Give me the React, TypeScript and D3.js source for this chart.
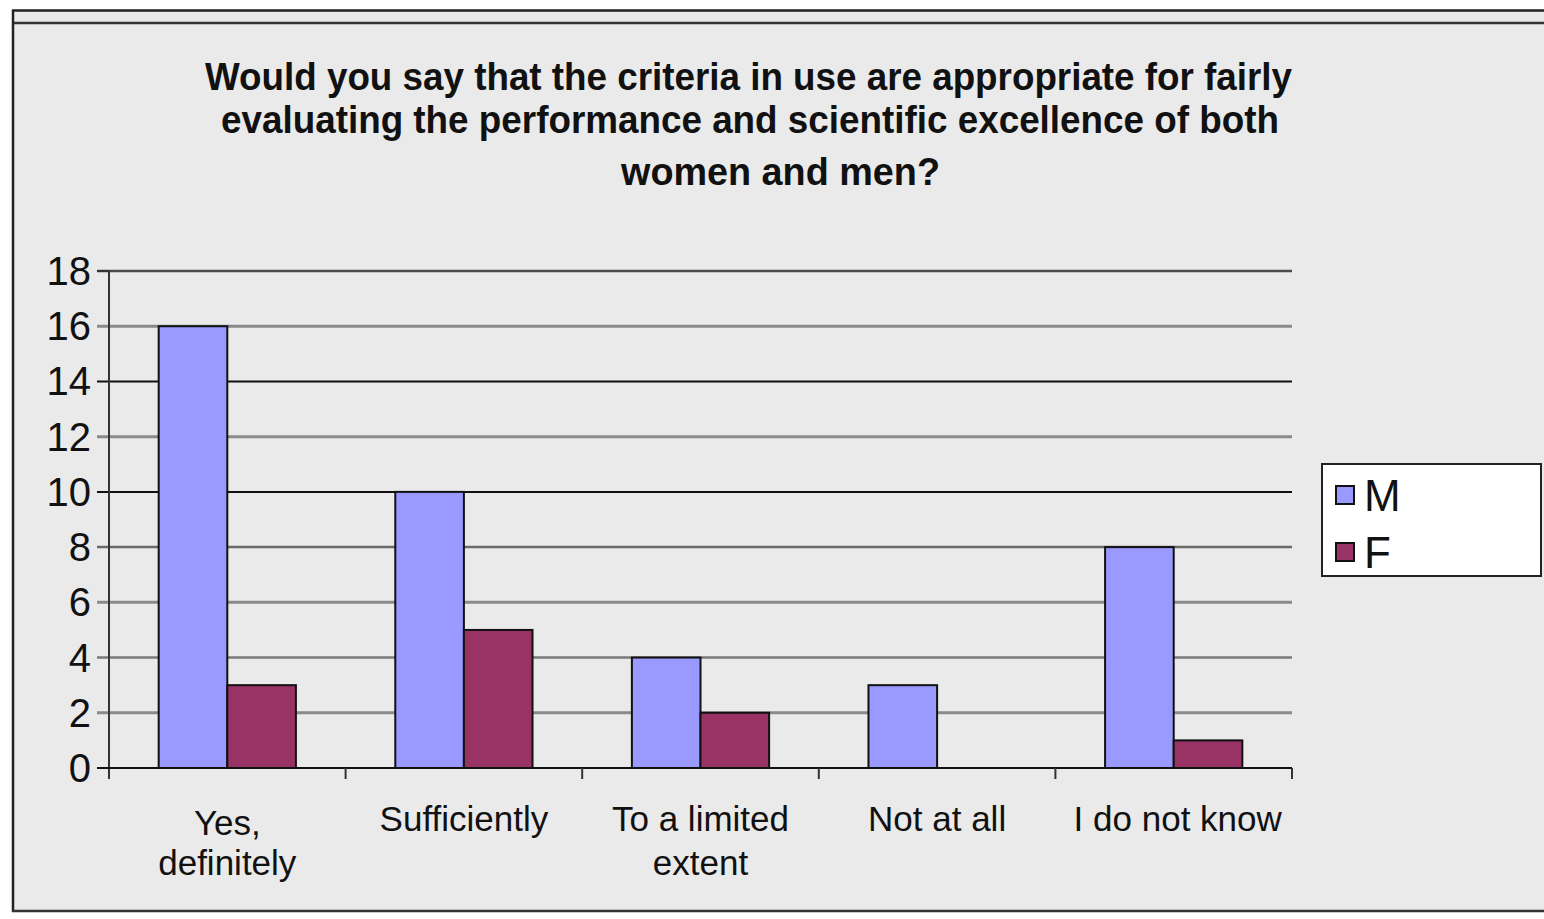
import React from "react";
import * as d3 from "d3";

const categories = ["Yes, definitely", "Sufficiently", "To a limited extent", "Not at all", "I do not know"];
const categoryLabelLines = [["Yes,", "definitely"], ["Sufficiently"], ["To a limited", "extent"], ["Not at all"], ["I do not know"]];
const seriesNames = ["M", "F"];
const valuesM = [16, 10, 4, 3, 8];
const valuesF = [3, 5, 2, 0, 1];
const yTicks = [0, 2, 4, 6, 8, 10, 12, 14, 16, 18];
const titleLines = [
  "Would you say that the criteria in use are appropriate for fairly",
  "evaluating the performance and scientific excellence of both",
  "women and men?",
];

const colors: Record<string, string> = { M: "#9999FF", F: "#993366" };
const FONT = "'Liberation Sans', Arial, sans-serif";

// gridline appearance (scan look): per tick value
const gridStyle: Record<number, { c: string; w: number }> = {
  18: { c: "#4a4a4a", w: 2.5 },
  16: { c: "#8a8a8a", w: 3 },
  14: { c: "#111", w: 2 },
  12: { c: "#8a8a8a", w: 3 },
  10: { c: "#111", w: 2 },
  8: { c: "#6a6a6a", w: 2.5 },
  6: { c: "#8a8a8a", w: 3 },
  4: { c: "#7a7a7a", w: 2.5 },
  2: { c: "#8a8a8a", w: 3 },
};

export default function App() {
  const W = 1544, H = 919;
  const left = 109, right = 1292, top = 271, bottom = 768;

  const x = d3.scaleBand<string>().domain(categories).range([left, right]).padding(0);
  const bw = x.bandwidth();
  const groupW = bw * 0.58;
  const xs = d3.scaleBand<string>().domain(seriesNames).range([0, groupW]).padding(0);
  const y = d3.scaleLinear().domain([0, 18]).range([bottom, top]);

  const data = categories.map((c, i) => ({ c, M: valuesM[i], F: valuesF[i] }));
  const titleX = [205, 221, 621];
  const titleW = [1087, 1058, 319];
  const titleY = [90, 133, 185];

  return (
    <svg width={W} height={H} style={{ position: "absolute", left: 0, top: 0, background: "#fff" }}>
      {/* chart area */}
      <rect x={13} y={10} width={W} height={901} fill="#EAEAEA" />
      <line x1={12} x2={W} y1={10.5} y2={10.5} stroke="#222" strokeWidth={2.5} />
      <line x1={13} x2={W} y1={23} y2={23} stroke="#333" strokeWidth={2.5} />
      <line x1={13} x2={13} y1={10} y2={912} stroke="#222" strokeWidth={2.5} />
      <line x1={12} x2={W} y1={911} y2={911} stroke="#333" strokeWidth={2.5} />

      {/* title */}
      {titleLines.map((t, i) => (
        <text key={i} x={titleX[i]} y={titleY[i]} fontFamily={FONT} fontWeight="bold" fontSize={39}
          textLength={titleW[i]} lengthAdjust="spacingAndGlyphs" fill="#111">{t}</text>
      ))}

      {/* gridlines + y ticks */}
      {yTicks.map((v) => (
        <g key={v}>
          {v > 0 && (
            <line x1={97} x2={right} y1={y(v)} y2={y(v)} stroke={gridStyle[v].c} strokeWidth={gridStyle[v].w} />
          )}
          <text x={91} y={y(v) + 14} textAnchor="end" fontFamily={FONT} fontSize={40} fill="#111">{v}</text>
        </g>
      ))}

      {/* bars */}
      {data.map((d) => (
        <g key={d.c} transform={`translate(${(x(d.c) as number) + (bw - groupW) / 2},0)`}>
          {seriesNames.map((s) => {
            const v = (d as any)[s] as number;
            if (v <= 0) return null;
            return (
              <rect key={s} x={xs(s)} y={y(v)} width={xs.bandwidth()} height={y(0) - y(v)}
                fill={colors[s]} stroke="#111" strokeWidth={2} />
            );
          })}
        </g>
      ))}

      {/* axes */}
      <line x1={left} x2={left} y1={top} y2={779} stroke="#333" strokeWidth={2} />
      <line x1={97} x2={right} y1={bottom} y2={bottom} stroke="#111" strokeWidth={2} />
      <line x1={97} x2={left} y1={top} y2={top} stroke="#333" strokeWidth={2} />
      {categories.map((c) => (
        <line key={c} x1={(x(c) as number) + bw} x2={(x(c) as number) + bw} y1={bottom} y2={779} stroke="#333" strokeWidth={2} />
      ))}

      {/* category labels */}
      {categories.map((c, i) => {
        const lines = categoryLabelLines[i];
        const cx = (x(c) as number) + bw / 2 + (i === 4 ? 4 : 0);
        return (
          <text key={c} textAnchor="middle" fontFamily={FONT} fontSize={35} fill="#111">
            {lines.map((l, j) => (
              <tspan key={j} x={cx} y={(lines.length > 1 && i === 0 ? 835 : 831) + j * (i === 0 ? 40 : 44)}>{l}</tspan>
            ))}
          </text>
        );
      })}

      {/* legend */}
      <rect x={1322} y={464} width={219} height={112} fill="#fff" stroke="#222" strokeWidth={2} />
      {seriesNames.map((s, i) => (
        <g key={s} transform={`translate(1336,${486 + i * 57})`}>
          <rect x={0} y={0} width={18} height={18} fill={colors[s]} stroke="#111" strokeWidth={2} />
          <text x={28} y={25} fontFamily={FONT} fontSize={44} fill="#111">{s}</text>
        </g>
      ))}
    </svg>
  );
}
